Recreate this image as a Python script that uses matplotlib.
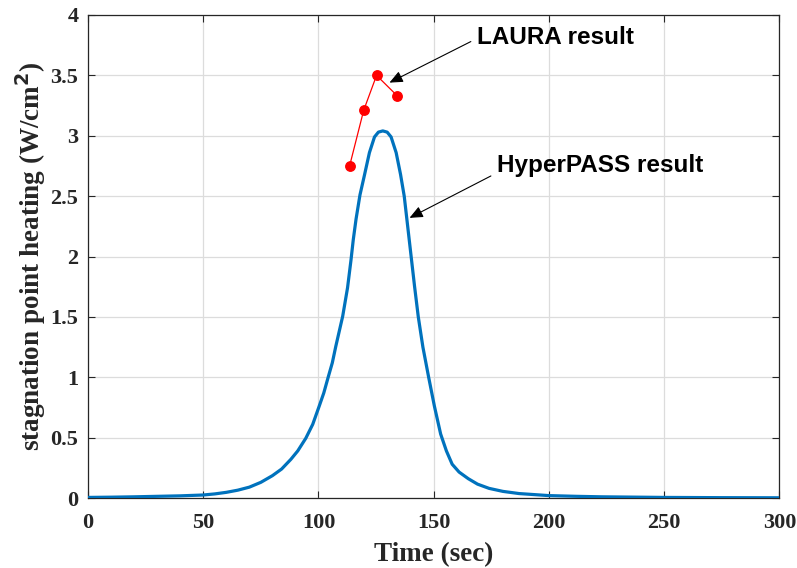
import matplotlib
matplotlib.use("Agg")
import matplotlib.pyplot as plt

# HyperPASS stagnation point heating
time_sec = [0, 10, 20, 30, 40, 50, 55, 60, 65, 70, 75, 80, 84, 88, 91, 94.5,
            97.5, 100.3, 102.3, 104.2, 106, 107.5, 109, 110.5, 112.6, 114.1,
            115.1, 116.3, 118.0, 119.9, 122.1, 124.3, 126, 127.9, 129.8,
            131.5, 133.7, 135.6, 137.2, 138.7, 140.2, 141.7, 143.3, 145.3,
            147.8, 150.3, 153, 155.5, 158, 161, 165, 169, 174, 180, 187, 200,
            212, 223, 250, 275, 300]
heating = [0.005, 0.007, 0.01, 0.014, 0.018, 0.025, 0.034, 0.047, 0.065,
           0.09, 0.13, 0.185, 0.24, 0.32, 0.39, 0.495, 0.61, 0.76, 0.87, 1.0,
           1.12, 1.255, 1.38, 1.505, 1.74, 1.97, 2.14, 2.31, 2.51, 2.67, 2.86,
           2.99, 3.03, 3.04, 3.03, 2.99, 2.86, 2.68, 2.5, 2.25, 2.0, 1.75,
           1.5, 1.25, 1.0, 0.76, 0.53, 0.39, 0.28, 0.215, 0.16, 0.115, 0.08,
           0.055, 0.037, 0.02, 0.014, 0.01, 0.005, 0.003, 0.002]

# LAURA points
laura_t = [113.5, 119.6, 125.2, 134.2]
laura_q = [2.75, 3.21, 3.50, 3.33]

serif = ["Liberation Serif", "DejaVu Serif"]
sans = ["Liberation Sans", "DejaVu Sans"]

fig = plt.figure(figsize=(7.97, 5.68), dpi=100)
ax = fig.add_axes([0.1104, 0.1232, 0.8676, 0.8504])

ax.plot(time_sec, heating, color="#0072BD", lw=2.3, zorder=3,
        solid_joinstyle="round")
ax.plot(laura_t, laura_q, color="red", lw=0.9, marker="o", ms=6.8,
        markeredgecolor="red", zorder=4)

ax.set_xlim(0, 300)
ax.set_ylim(0, 4)
ax.set_xticks([0, 50, 100, 150, 200, 250, 300])
ax.set_yticks([0, 0.5, 1, 1.5, 2, 2.5, 3, 3.5, 4])
ax.set_yticklabels(["0", "0.5", "1", "1.5", "2", "2.5", "3", "3.5", "4"])
ax.grid(True, color="#dcdcdc", lw=0.9)
ax.set_axisbelow(True)
ax.tick_params(direction="in", length=5, width=0.8, colors="#262626",
               top=True, right=True, labelsize=16)
ax.tick_params(axis="x", pad=11)
ax.tick_params(axis="y", pad=7)
for lab in ax.get_xticklabels() + ax.get_yticklabels():
    lab.set_family(serif)
    lab.set_fontweight("bold")
for sp in ax.spines.values():
    sp.set_color("#262626")
    sp.set_linewidth(0.9)

ax.set_xlabel("Time (sec)", family=serif, fontweight="bold", fontsize=19.5,
              color="#262626", labelpad=6)
ax.set_ylabel("stagnation point heating (W/cm$^\\mathbf{2}$)", family=serif,
              fontweight="bold", fontsize=19.5, color="#262626", labelpad=2)

arrow = dict(arrowstyle="-|>,head_length=0.8,head_width=0.35", color="black",
             lw=0.8, shrinkA=0, shrinkB=0)
ax.annotate("", xy=(130.8, 3.44), xytext=(166.1, 3.78), arrowprops=arrow)
ax.annotate("", xy=(139.5, 2.32), xytext=(174.8, 2.667), arrowprops=arrow)
ax.text(168.6, 3.81, "LAURA result", family=sans, fontweight="bold",
        fontsize=17.5, va="center", ha="left")
ax.text(177.3, 2.755, "HyperPASS result", family=sans, fontweight="bold",
        fontsize=17.5, va="center", ha="left")

fig.savefig("out.png", dpi=100)
